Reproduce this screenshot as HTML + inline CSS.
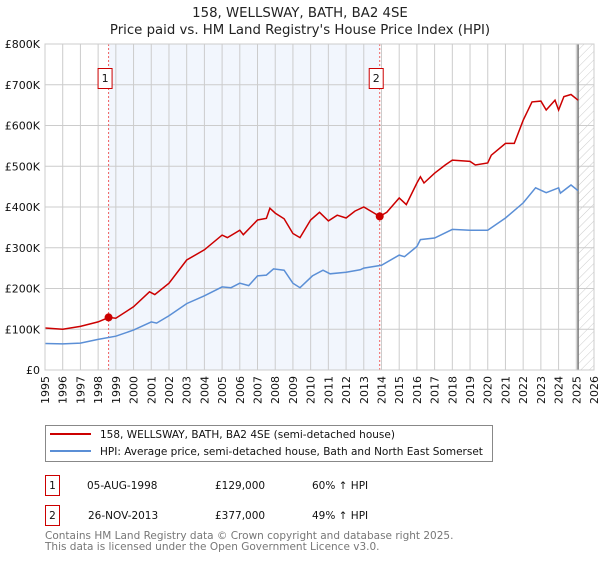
<!DOCTYPE html>
<html><head><meta charset="utf-8"><style>
body{margin:0;background:#fff;font-family:"DejaVu Sans","Liberation Sans",sans-serif;}
svg text{font-family:"DejaVu Sans","Liberation Sans",sans-serif;}
</style></head><body>
<svg id="c" width="600" height="560" xmlns="http://www.w3.org/2000/svg">
<defs><pattern id="hatch" width="6" height="6" patternUnits="userSpaceOnUse" patternTransform="rotate(45)"><line x1="0" y1="0" x2="0" y2="6" stroke="#ccc" stroke-width="1"/></pattern></defs>
<text x="300" y="17" text-anchor="middle" font-size="13.3" fill="#222">158, WELLSWAY, BATH, BA2 4SE</text>
<text x="300" y="34" text-anchor="middle" font-size="13.3" fill="#222">Price paid vs. HM Land Registry's House Price Index (HPI)</text>
<g id="plot"></g>
<g>
<rect x="45.5" y="425.5" width="447" height="36" fill="#fff" stroke="#888"/>
<line x1="50" y1="434" x2="91" y2="434" stroke="#cc0000" stroke-width="2"/>
<text x="100" y="438" font-size="10.5" fill="#111">158, WELLSWAY, BATH, BA2 4SE (semi-detached house)</text>
<line x1="50" y1="451" x2="91" y2="451" stroke="#5b8fd6" stroke-width="2"/>
<text x="100" y="455" font-size="10.5" fill="#111">HPI: Average price, semi-detached house, Bath and North East Somerset</text>
</g>
<g font-size="10.5" fill="#111">
<rect x="45.5" y="475.5" width="14" height="20" fill="none" stroke="#cc0000"/>
<text x="52.5" y="489" text-anchor="middle">1</text>
<text x="87" y="489">05-AUG-1998</text><text x="215" y="489">£129,000</text><text x="312" y="489">60% ↑ HPI</text>
<rect x="45.5" y="505.5" width="14" height="20" fill="none" stroke="#cc0000"/>
<text x="52.5" y="519" text-anchor="middle">2</text>
<text x="88" y="519">26-NOV-2013</text><text x="215" y="519">£377,000</text><text x="312" y="519">49% ↑ HPI</text>
</g>
<text x="45" y="539" font-size="10.5" fill="#777">Contains HM Land Registry data © Crown copyright and database right 2025.</text>
<text x="45" y="550" font-size="10.5" fill="#777">This data is licensed under the Open Government Licence v3.0.</text>
</svg>
<script>
const hpiYears=[1995,1996,1997,1998,1999,2000,2001,2001.3,2002,2003,2004,2005,2005.5,2006,2006.5,2007,2007.5,2007.9,2008.5,2009,2009.4,2010.1,2010.7,2011.1,2012,2012.8,2013,2014,2015,2015.3,2016,2016.2,2017,2018,2019,2020,2021,2022,2022.7,2023.3,2024,2024.1,2024.7,2025.1];
const hpiValues=[65,64,66,75,83,98,118,115,133,163,182,204,202,213,207,231,233,248,245,213,202,231,245,236,240,246,250,257,282,278,303,320,324,345,343,343,373,410,447,435,447,434,454,440];
const priceYears=[1995,1996,1997,1998,1998.6,1999,2000,2000.9,2001.2,2002,2003,2004,2005,2005.3,2006,2006.2,2007,2007.5,2007.7,2008,2008.5,2009,2009.4,2010,2010.5,2011,2011.5,2012,2012.5,2013,2013.9,2014.3,2015,2015.4,2016,2016.2,2016.4,2017,2017.6,2018,2019,2019.3,2020,2020.2,2021,2021.5,2022,2022.5,2023,2023.3,2023.8,2024,2024.3,2024.7,2025.1];
const priceValues=[103,100,107,118,129,127,155,192,185,213,270,295,331,325,343,332,368,372,397,385,371,335,325,368,387,366,380,373,390,400,377,387,422,406,459,474,459,483,503,515,512,503,508,527,556,556,613,658,660,638,662,638,671,676,662];
const saleYears=[1998.59,2013.9];
const saleValues=[129,377];
const yTicks=[0,100,200,300,400,500,600,700,800];
const yTickLabels=["£0","£100K","£200K","£300K","£400K","£500K","£600K","£700K","£800K"];
const xTicks=[1995,1996,1997,1998,1999,2000,2001,2002,2003,2004,2005,2006,2007,2008,2009,2010,2011,2012,2013,2014,2015,2016,2017,2018,2019,2020,2021,2022,2023,2024,2025,2026];

const X0=45,X1=594,Y0=370,Y1=44;
const x=y=>X0+(y-1995)/(2026-1995)*(X1-X0);
const yv=v=>Y0-v/800*(Y0-Y1);
const NS="http://www.w3.org/2000/svg";
const g=document.getElementById('plot');
function mk(t,a,p){const e=document.createElementNS(NS,t);for(const k in a)e.setAttribute(k,a[k]);(p||g).appendChild(e);return e;}
let e;
e=mk('rect',{x:x(saleYears[0]),y:Y1,width:x(saleYears[1])-x(saleYears[0]),height:Y0-Y1,fill:'#f2f6fd'});


e=mk('rect',{x:x(2025.1),y:Y1,width:X1-x(2025.1),height:Y0-Y1,fill:'url(#hatch)'});


yTicks.forEach((t,i)=>{
 e=mk('line',{x1:X0,x2:X1,y1:yv(t),y2:yv(t),stroke:'#ccc','stroke-width':1});
 
 
 e=mk('text',{x:40,y:yv(t)+4,'text-anchor':'end','font-size':11,fill:'#111'});e.textContent=yTickLabels[i];
 
 
});
xTicks.forEach(t=>{
 e=mk('line',{x1:x(t),x2:x(t),y1:Y1,y2:Y0,stroke:'#ccc','stroke-width':1});
 
 
 e=mk('text',{x:0,y:0,'text-anchor':'end','font-size':11,fill:'#111',transform:`translate(${x(t)+4},376) rotate(-90)`});e.textContent=t;
 
 
});
e=mk('line',{x1:x(2025.1),x2:x(2025.1),y1:Y1,y2:Y0,stroke:'#777','stroke-width':1.5});


saleYears.forEach((s,i)=>{
 e=mk('line',{x1:x(s),x2:x(s),y1:Y1,y2:Y0,stroke:'#f06060','stroke-width':1,'stroke-dasharray':'2,2'});
 
 
 e=mk('rect',{x:x(s)-10.5,y:68.5,width:14,height:20,fill:'#fff',stroke:'#cc0000'});
 
 
 e=mk('text',{x:x(s)-3.5,y:82,'text-anchor':'middle','font-size':11,fill:'#111'});e.textContent=String(i+1);
 
 
});
const pts=(ys,vs)=>ys.map((a,i)=>x(a).toFixed(1)+','+yv(vs[i]).toFixed(1)).join(' ');
e=mk('polyline',{points:pts(hpiYears,hpiValues),fill:'none',stroke:'#5b8fd6','stroke-width':1.5});


e=mk('polyline',{points:pts(priceYears,priceValues),fill:'none',stroke:'#cc0000','stroke-width':1.5});


saleYears.forEach((s,i)=>{
 e=mk('circle',{cx:x(s),cy:yv(saleValues[i]),r:4,fill:'#cc0000'});
 
 
});
e=mk('rect',{x:X0,y:Y1,width:X1-X0,height:Y0-Y1,fill:'none',stroke:'#ccc'});


</script>
</body></html>
